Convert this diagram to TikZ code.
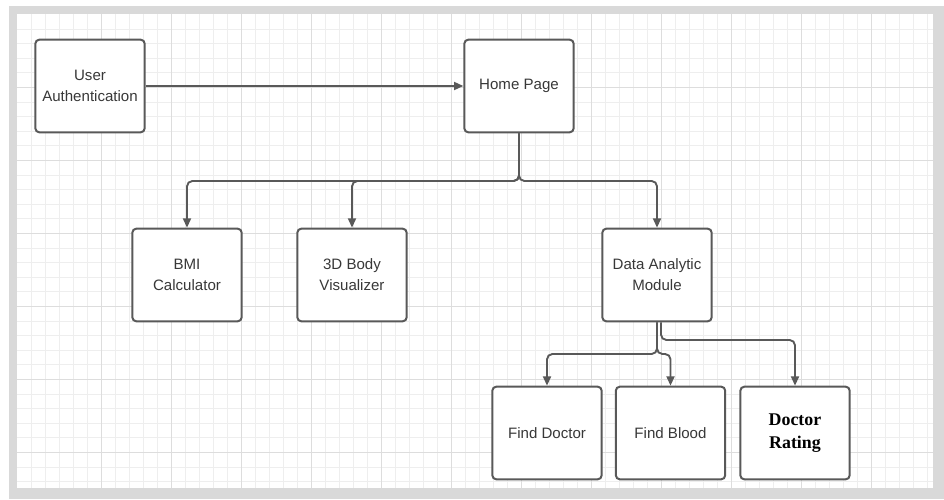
\documentclass[tikz,border=0pt]{standalone}
\usepackage{fontspec}
\usetikzlibrary{arrows.meta}
\newfontfamily\arialfont{Liberation Sans}
\newfontfamily\timesfont{Liberation Serif}
\definecolor{framegray}{HTML}{D9D9D9}
\definecolor{gridminor}{HTML}{EEEEEE}
\definecolor{gridmajor}{HTML}{DDDDDD}
\definecolor{linegray}{HTML}{595959}
\definecolor{textgray}{HTML}{383838}
\tikzset{
  module/.style={draw=linegray, line width=1.5pt, rounded corners=3pt, fill=white,
    minimum width=82pt, minimum height=69.5pt, inner sep=0pt, align=center,
    text=textgray, font=\arialfont\fontsize{11.3}{15.75}\selectfont},
  link/.style={draw=linegray, line width=1.4pt, rounded corners=4pt,
    -{Triangle[length=7pt,width=6pt]}},
}

\begin{document}
\begin{tikzpicture}[x=0.75pt, y=-0.75pt]
      \useasboundingbox (0,0) rectangle (944,499);
      % frame and grid paper
      \fill[framegray] (9,6) rectangle (944,499);
      \fill[white] (17,14) rectangle (933,488);
      \foreach \x in {31,45,...,933} \draw[gridminor, line width=0.5pt] (\x,14) -- (\x,488);
      \foreach \y in {29,43.6,...,488} \draw[gridminor, line width=0.5pt] (17,\y) -- (933,\y);
      \foreach \x in {101,171,...,933} \draw[gridmajor, line width=0.6pt] (\x,14) -- (\x,488);
      \foreach \y in {87,160,...,488} \draw[gridmajor, line width=0.6pt] (17,\y) -- (933,\y);

      \node[module] (user) at (90,86) {User\\Authentication};
      \node[module] (home) at (519,86) {Home Page};
      \node[module] (bmi) at (187,275) {BMI\\Calculator};
      \node[module] (body) at (352,275) {3D Body\\Visualizer};
      \node[module] (data) at (657,275) {Data Analytic\\Module};
      \node[module] (doctor) at (547,433) {Find Doctor};
      \node[module] (blood) at (670.5,433) {Find Blood};
      \node[module, font=\timesfont\bfseries\fontsize{13.4}{17.3}\selectfont, text=black] (rating) at (795,433) {Doctor\\Rating};

      \coordinate (hub) at (519,181);
      \coordinate (datahub) at (657,354);
      \coordinate (ratehub) at (661,340);

      \draw[link] (user) -- (home);
      \draw[link] (home.south) -- (hub) -| (bmi.north);
      \draw[link] (home.south) -- (hub) -| (body.north);
      \draw[link] (home.south) -- (hub) -| (data.north);
      \draw[link] (data.south) -- (datahub) -| (doctor.north);
      \draw[link] (data.south) -- (datahub) -| (blood.north);
      \draw[link] (data.south -| ratehub) -- (ratehub) -| (rating.north);
    \end{tikzpicture}
\end{document}
